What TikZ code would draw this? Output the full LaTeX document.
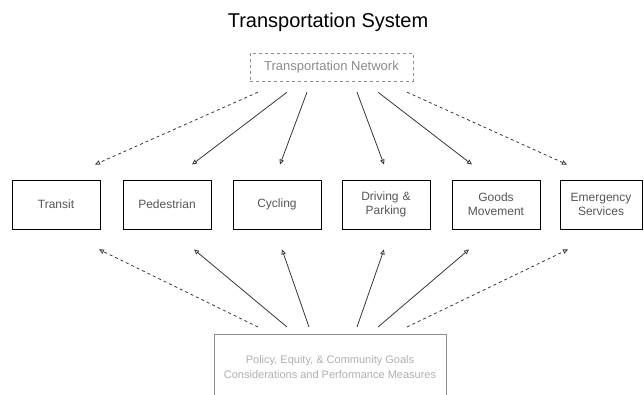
\documentclass[tikz,border=0pt]{standalone}
\usepackage{fontspec}
\setmainfont{Liberation Sans}
\setsansfont{Liberation Sans}
\usetikzlibrary{arrows.meta}
\definecolor{text_gray}{RGB}{85,85,85}
\definecolor{light_gray}{RGB}{140,140,140}
\definecolor{pale_gray}{RGB}{175,175,175}
\definecolor{line_gray}{RGB}{55,55,55}

\begin{document}
\begin{tikzpicture}[x=1pt,y=-1pt,>={Triangle[open,length=5pt,width=4.5pt]}]
    \sffamily
    \tikzstyle{heading}=[text=black,font=\fontsize{20}{22}\selectfont]
    \tikzstyle{modebox}=[draw=black,line width=0.9pt,rectangle,minimum width=88pt,minimum height=49pt,inner sep=0pt,text width=80pt,align=center,text=text_gray,font=\fontsize{12}{14}\selectfont]
    \tikzstyle{netbox}=[draw=light_gray,dashed,rectangle,minimum width=163pt,minimum height=28pt,inner sep=0pt,text=light_gray,font=\fontsize{13}{15}\selectfont]
    \tikzstyle{goalbox}=[draw=light_gray,rectangle,minimum width=232pt,minimum height=66pt,inner sep=0pt,align=center,text=pale_gray,font=\fontsize{11}{15}\selectfont]
    \tikzstyle{arr}=[->,line_gray,line width=0.8pt]
    \tikzstyle{darr}=[arr,dashed]

    \clip (0,0) rectangle (644,395);

    \node[heading,anchor=base] (TS) at (328,28) {Transportation System};
    \node[netbox] (TN) at (331.5,67) {Transportation Network};

    \node[modebox] (Tr) at (56,204.5)  {Transit};
    \node[modebox] (Pe) at (167,204.5) {Pedestrian};
    \node[modebox] (Cy) at (277,204.5) {Cycling};
    \node[modebox] (Dr) at (386,204.5) {Driving \&\\Parking};
    \node[modebox] (Go) at (496,204.5) {Goods\\Movement};
    \node[modebox,minimum width=82pt] (Em) at (601,204.5) {Emergency\\Services};

    \node[goalbox,anchor=north] (PG) at (330,334) {Policy, Equity, \& Community Goals\\Considerations and Performance Measures};

%   network down to the modes
    \path
     ([xshift=-73.5pt,yshift=-11pt]TN.south) edge[darr] ([xshift=39pt,yshift=15pt]Tr.north)
     ([xshift=-44.5pt,yshift=-11pt]TN.south) edge[arr]  ([xshift=25pt,yshift=15pt]Pe.north)
     ([xshift=-24.5pt,yshift=-11pt]TN.south) edge[arr]  ([xshift=3pt,yshift=15pt]Cy.north)
     ([xshift=25.5pt,yshift=-11pt]TN.south)  edge[arr]  ([xshift=-2pt,yshift=15pt]Dr.north)
     ([xshift=46.5pt,yshift=-11pt]TN.south)  edge[arr]  ([xshift=-24pt,yshift=15pt]Go.north)
     ([xshift=75.5pt,yshift=-11pt]TN.south)  edge[darr] ([xshift=-34pt,yshift=15pt]Em.north);

%   goals up to the modes
    \path
     ([xshift=-72pt,yshift=7pt]PG.north) edge[darr] ([xshift=43pt,yshift=-20pt]Tr.south)
     ([xshift=-43pt,yshift=7pt]PG.north) edge[arr]  ([xshift=27pt,yshift=-20pt]Pe.south)
     ([xshift=-21pt,yshift=7pt]PG.north) edge[arr]  ([xshift=5pt,yshift=-20pt]Cy.south)
     ([xshift=27pt,yshift=7pt]PG.north)  edge[arr]  ([xshift=-2pt,yshift=-20pt]Dr.south)
     ([xshift=48pt,yshift=7pt]PG.north)  edge[arr]  ([xshift=-27pt,yshift=-20pt]Go.south)
     ([xshift=77pt,yshift=7pt]PG.north)  edge[darr] ([xshift=-33pt,yshift=-20pt]Em.south);
\end{tikzpicture}
\end{document}
